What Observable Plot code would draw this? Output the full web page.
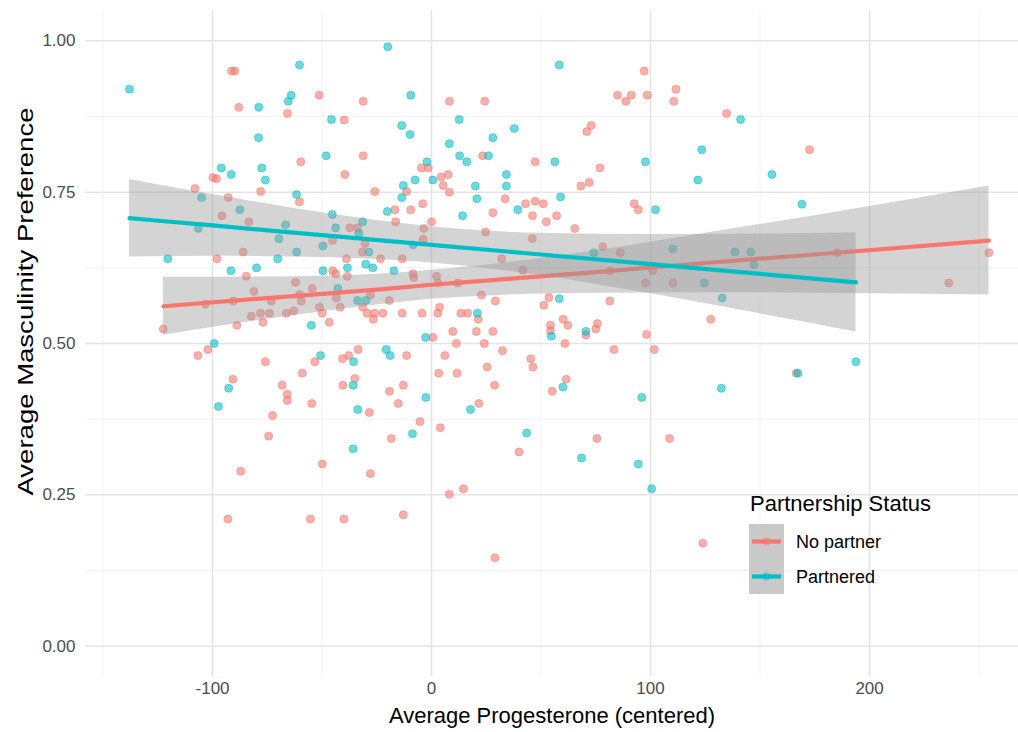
<!DOCTYPE html>
<html><head><meta charset="utf-8">
<script src="https://cdn.jsdelivr.net/npm/d3@7"></script>
<script src="https://cdn.jsdelivr.net/npm/@observablehq/plot@0.6"></script>
<style>
body{margin:0;background:#fff;font-family:"Liberation Sans",Arial,sans-serif;}
#wrap{position:relative;width:1018px;height:732px;overflow:hidden;background:#fff}
#legend{position:absolute;left:0;top:0;pointer-events:none}
</style></head><body><div id="wrap"></div>
<script>
// ---- data: [progesterone (centered), masculinity preference] ----
const noPartner = [
[-91.3,0.950],[-89.8,0.950],[-51.3,0.910],[-88,0.890],[-31.2,0.900],[-65.8,0.880],[-39.9,0.869],[-31.2,0.810],[-59.7,0.800],[-99.8,0.774],[-98.2,0.772],[-39.6,0.779],[-108,0.756],[-92.8,0.741],[-78,0.751],[-60.3,0.734],[-25.9,0.751],[-11.4,0.751],[-9.5,0.721],[-16.7,0.721],[-16.4,0.701],[-95.7,0.711],[-83.4,0.701],[-37.3,0.691],[-33.9,0.691],[-45.2,0.670],
[8.2,0.900],[24.3,0.900],[97.1,0.950],[84.9,0.910],[88.7,0.900],[91.2,0.910],[98.5,0.910],[111.6,0.920],[110.6,0.900],[72.9,0.860],[70.9,0.850],[23.3,0.810],[47.3,0.800],[76.9,0.790],[-4.6,0.790],[-1.5,0.790],[4.4,0.775],[7.6,0.779],[5.3,0.761],[8.1,0.750],[33.6,0.739],[68.2,0.760],[72,0.766],[42.9,0.731],[47.3,0.735],[51,0.731],[-4,0.731],[92.5,0.731],[94.4,0.721],[28,0.716],[46.1,0.711],[57.1,0.711],[52.4,0.701],[0,0.701],[65.4,0.690],[-3.5,0.690],[24.7,0.684],[-3.8,0.672],[46,0.673],
[134.7,0.880],[172.6,0.820],
[-30.4,0.665],[-31.6,0.651],[-86,0.651],[-98,0.640],[-38.8,0.640],[-23.3,0.640],[-13.4,0.640],[-45.1,0.620],[-43.8,0.615],[-38.5,0.611],[-84.6,0.611],[-62.1,0.601],[-54.5,0.591],[-81.1,0.586],[-60.3,0.581],[-59.5,0.570],[-43.5,0.575],[-27.9,0.580],[-19.3,0.571],[-103.3,0.565],[-90.5,0.570],[-73.2,0.570],[-51.1,0.560],[-41.7,0.560],[-31.4,0.560],[-82.3,0.545],[-78.1,0.550],[-74,0.550],[-66.3,0.550],[-62.9,0.554],[-49.9,0.550],[-29.4,0.550],[-26,0.550],[-22.2,0.550],[-26.6,0.540],[-13.4,0.550],[-122.5,0.524],[-88.9,0.530],[-77,0.535],[-46.7,0.535],[-102.1,0.490],[-106.7,0.480],[-75.9,0.470],[-53.3,0.470],[-40.6,0.475],[-37.8,0.480],[-33.5,0.490],[-11.4,0.480],[-90.7,0.441],[-59,0.451],[-68.2,0.431],[-65.9,0.416],[-65.9,0.406],[-40.5,0.431],[-35,0.442],[-19.2,0.421],[-12.9,0.431],[-54.7,0.401],[-28.4,0.386],[-15.2,0.401],[-72.6,0.381],[-74.4,0.347],[-18.4,0.343],
[-8.5,0.615],[-8.1,0.609],[2.3,0.611],[3,0.600],[12,0.600],[32,0.640],[41.7,0.621],[78.2,0.660],[86.2,0.650],[81.4,0.620],[97.6,0.600],[101,0.620],[110.2,0.600],[22.8,0.580],[29.1,0.570],[53.6,0.576],[51.3,0.563],[81.4,0.570],[-4.3,0.550],[2.9,0.550],[3.7,0.560],[13.4,0.550],[16.4,0.550],[21.3,0.540],[9.7,0.520],[20.5,0.520],[28,0.520],[0.6,0.510],[11.3,0.500],[24.1,0.500],[60.1,0.540],[62.2,0.530],[54.3,0.530],[54.3,0.521],[70.5,0.514],[75.7,0.533],[75,0.524],[60.9,0.500],[98.2,0.515],[101.7,0.490],[83.3,0.490],[127.5,0.540],[6.1,0.480],[32.4,0.488],[45.3,0.475],[46.3,0.461],[25.4,0.461],[3.3,0.451],[11.6,0.451],[28.8,0.431],[61.5,0.441],[55.1,0.421],[21.6,0.401],[-5.3,0.371],[4,0.361],[75.5,0.343],[108.7,0.343],
[185.2,0.650],[254.5,0.650],[236.2,0.600],[166.5,0.451],
[-87.1,0.289],[-49.9,0.301],[-27.9,0.285],[-93,0.210],[-55.3,0.210],[-40,0.210],[-12.9,0.217],
[39.9,0.321],[8.1,0.251],[14.6,0.260],[28.9,0.146],[123.9,0.170]
];
const partnered = [
[-137.9,0.920],[-20,0.990],[-60.3,0.960],[-64.1,0.910],[-65.4,0.900],[-9.5,0.910],[-78.9,0.890],[-45.7,0.870],[-13.6,0.860],[-9.8,0.845],[-79,0.840],[-48.1,0.810],[-96,0.790],[-91.5,0.779],[-77.5,0.790],[-75.9,0.770],[-105,0.741],[-61.6,0.746],[-12.9,0.761],[-13.6,0.741],[-20.2,0.718],[-87.5,0.721],[-106.5,0.690],[-66.7,0.696],[-69.7,0.673],[-45.3,0.713],[-43.8,0.691],[-31.5,0.701],[-33.2,0.682],
[58.3,0.960],[12.6,0.870],[37.8,0.855],[8.1,0.830],[28,0.840],[123.4,0.820],[12.8,0.810],[26,0.810],[16.1,0.800],[56.3,0.800],[97.7,0.800],[-2.1,0.800],[-7.5,0.770],[0.6,0.770],[20,0.760],[20.7,0.739],[34.2,0.779],[34.2,0.760],[121.6,0.770],[58.9,0.742],[102.3,0.721],[39.4,0.721],[14.2,0.711],
[141.1,0.870],[155.4,0.779],[169.1,0.730],
[-28.6,0.651],[-49.6,0.661],[-61.6,0.651],[-120.4,0.640],[-70.2,0.640],[-91.6,0.620],[-79.9,0.625],[-49.6,0.620],[-38.4,0.625],[-30,0.631],[-26.8,0.625],[-17.2,0.620],[-42.8,0.591],[-33.8,0.571],[-30,0.571],[-54.9,0.530],[-99.2,0.500],[-50.7,0.480],[-35.6,0.470],[-20.7,0.490],[-18.9,0.480],[-92.6,0.426],[-35.8,0.431],[-97.3,0.396],[-33.7,0.391],[-8.7,0.351],
[-8.5,0.663],[74.1,0.650],[110.2,0.656],[124.5,0.600],[58.3,0.574],[20.9,0.550],[-2.7,0.510],[54.7,0.512],[70.5,0.520],[60,0.428],[-2.6,0.411],[96,0.411],[17.8,0.391],[43.4,0.352],
[138.5,0.651],[145.7,0.651],[147.2,0.630],[132.7,0.575],[193.8,0.470],[167.3,0.451],[132.3,0.426],
[-35.8,0.326],
[68.5,0.311],[94.4,0.301],[100.5,0.260]
];
// ---- fitted lines and 95% bands ----
const redBandX = [-122.4,-75,-25,0,25,75,125,175,254.5];
const redFit   = [0.5615,0.575,0.589,0.597,0.604,0.618,0.633,0.647,0.670];
const redLo    = [0.5135,0.540,0.5635,0.573,0.5785,0.583,0.584,0.583,0.580];
const redHi    = [0.6095,0.610,0.6145,0.621,0.6295,0.653,0.682,0.711,0.760];
const tealBandX = [-137.9,-100,-50,0,50,100,150,193.8];
const tealFit   = [0.707,0.695,0.679,0.663,0.647,0.631,0.615,0.601];
const tealLo    = [0.643,0.644,0.642,0.633,0.612,0.582,0.549,0.519];
const tealHi    = [0.771,0.746,0.716,0.693,0.682,0.680,0.681,0.683];
// ---- ticks & labels ----
const xMajor = [-100,0,100,200];
const xMinor = [-150,-50,50,150,250];
const yMajor = [0,0.25,0.5,0.75,1];
const yMinor = [0.125,0.375,0.625,0.875];
const groups = ["No partner","Partnered"];
const groupColors = ["#F8766D","#00BFC4"];
const xTitle = "Average Progesterone (centered)";
const yTitle = "Average Masculinity Preference";
const legendTitle = "Partnership Status";

const band = (xs, fit, lo, hi) => xs.map((x,i)=>({x, fit: fit[i], lo: lo[i], hi: hi[i]}));
const redBand = band(redBandX, redFit, redLo, redHi);
const tealBand = band(tealBandX, tealFit, tealLo, tealHi);

const dotOpts = (c) => ({x: d=>d[0], y: d=>d[1], r: 4, fill: c, fillOpacity: 0.58, stroke: c, strokeOpacity: 0.5, strokeWidth: 1});
const font = '"Liberation Sans", Arial, sans-serif';

const chart = Plot.plot({
  width: 1018, height: 732,
  marginLeft: 85, marginRight: 0, marginTop: 10, marginBottom: 56,
  style: {fontFamily: font, background: "white"},
  x: {domain: [-158, 268]},
  y: {domain: [-0.05, 1.05]},
  marks: [
    Plot.ruleX(xMinor, {stroke: "#EEEEEE", strokeWidth: 0.8}),
    Plot.ruleY(yMinor, {stroke: "#EEEEEE", strokeWidth: 0.8}),
    Plot.ruleX(xMajor, {stroke: "#E4E4E4", strokeWidth: 1.5}),
    Plot.ruleY(yMajor, {stroke: "#E4E4E4", strokeWidth: 1.5}),
    Plot.axisX({ticks: xMajor, tickSize: 0, tickPadding: 5, fontSize: 17, fill: "#4D4D4D", tickFormat: d => String(d), label: null}),
    Plot.axisY({ticks: yMajor, tickSize: 0, tickPadding: 10, fontSize: 17, fill: "#4D4D4D", tickFormat: d3.format(".2f"), label: null}),
    Plot.dot(noPartner, dotOpts(groupColors[0])),
    Plot.dot(partnered, dotOpts(groupColors[1])),
    Plot.areaY(redBand, {x: "x", y1: "lo", y2: "hi", fill: "#999999", fillOpacity: 0.42, curve: "monotone-x"}),
    Plot.line(redBand, {x: "x", y: "fit", stroke: groupColors[0], strokeWidth: 4.2, curve: "monotone-x"}),
    Plot.areaY(tealBand, {x: "x", y1: "lo", y2: "hi", fill: "#999999", fillOpacity: 0.42, curve: "monotone-x"}),
    Plot.line(tealBand, {x: "x", y: "fit", stroke: groupColors[1], strokeWidth: 4.2, curve: "monotone-x"}),
    Plot.text([xTitle], {frameAnchor: "bottom", dy: 31, lineAnchor: "top", fontSize: 22, fill: "#000"}),
    Plot.text([yTitle], {frameAnchor: "left", dx: -60, dy: -42, rotate: -90, textAnchor: "middle", fontSize: 22, fill: "#000"})
  ]
});
const wrap = document.getElementById("wrap");
wrap.appendChild(chart);
// the reference's vertical title is drawn a little longer
d3.select(chart).selectAll("text").filter(function(){ return this.textContent === yTitle; })
  .attr("textLength", 388).attr("lengthAdjust", "spacingAndGlyphs");

// ---- legend (inside the panel, bottom right) ----
const leg = d3.select(wrap).append("svg").attr("id","legend").attr("width",1018).attr("height",732)
  .style("font-family", font);
leg.append("text").attr("x", 750).attr("y", 511).attr("font-size", 22).attr("fill","#000").text(legendTitle);
groups.forEach((g,i)=>{
  const cy = 541.5 + i*35;
  leg.append("rect").attr("x",749).attr("y",cy-17.5).attr("width",35).attr("height",35).attr("fill","#C9C9C9");
  leg.append("line").attr("x1",752).attr("x2",781).attr("y1",cy).attr("y2",cy).attr("stroke",groupColors[i]).attr("stroke-width",4.2);
  leg.append("circle").attr("cx",766.5).attr("cy",cy).attr("r",4).attr("fill",groupColors[i]).attr("fill-opacity",0.55);
  leg.append("text").attr("x",796).attr("y",cy+6.5).attr("font-size",18).attr("fill","#000").text(g);
});
</script></body></html>
